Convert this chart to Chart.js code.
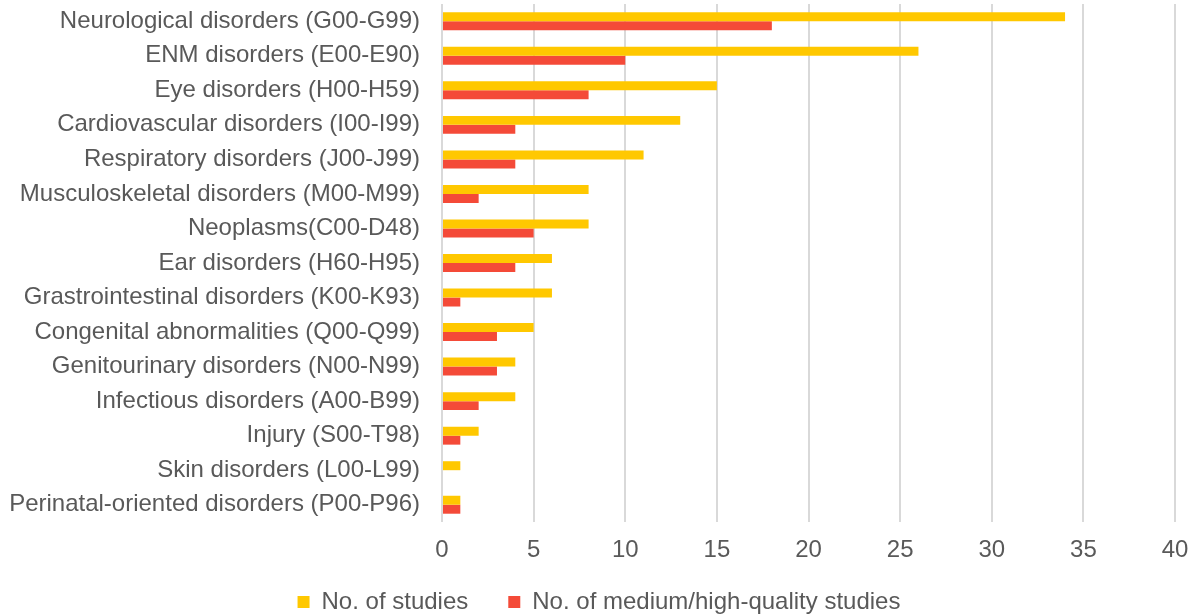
<!DOCTYPE html>
<html>
<head>
<meta charset="utf-8">
<script src="https://cdn.jsdelivr.net/npm/chart.js"></script>
<style>
    html, body { margin: 0; padding: 0; background: #fff; }
    #wrap { width: 1188px; height: 614px; }
</style>
</head>
<body>
<div id="wrap"><canvas id="studyChart"></canvas></div>

<script>
    const categories = [
        "Neurological disorders (G00-G99)",
        "ENM disorders (E00-E90)",
        "Eye disorders (H00-H59)",
        "Cardiovascular disorders (I00-I99)",
        "Respiratory disorders (J00-J99)",
        "Musculoskeletal disorders (M00-M99)",
        "Neoplasms(C00-D48)",
        "Ear disorders (H60-H95)",
        "Grastrointestinal disorders (K00-K93)",
        "Congenital abnormalities (Q00-Q99)",
        "Genitourinary disorders (N00-N99)",
        "Infectious disorders (A00-B99)",
        "Injury (S00-T98)",
        "Skin disorders (L00-L99)",
        "Perinatal-oriented disorders (P00-P96)"
    ];
    const studies = [34, 26, 15, 13, 11, 8, 8, 6, 6, 5, 4, 4, 2, 1, 1];
    const qualityStudies = [18, 10, 8, 4, 4, 2, 5, 4, 1, 3, 3, 2, 1, 0, 1];
    const xTicks = [0, 5, 10, 15, 20, 25, 30, 35, 40];

    const textColor = "#595959";
    const fontFamily = "'Liberation Sans', Arial, sans-serif";

    // legend box is too tall by default: pin its height, then nudge it up a bit
    const legendPlace = {
        id: "legendPlace",
        beforeLayout(chart) {
            const lg = chart.legend;
            if (lg && !lg._patched) {
                const fit = lg.fit;
                lg.fit = function () { fit.call(this); this.height = 54; };
                lg._patched = true;
            }
        },
        afterLayout(chart) {
            const lg = chart.legend;
            lg.top = chart.height - 64;
        }
    };

    let ctx = document.getElementById("studyChart").getContext("2d");

    new Chart(ctx, {
        type: "bar",
        data: {
            labels: categories,
            datasets: [{
                label: "No. of studies",
                data: studies,
                backgroundColor: "#FFC800"
            }, {
                label: "No. of medium/high-quality studies",
                data: qualityStudies,
                backgroundColor: "#F44A38"
            }]
        },
        options: {
            indexAxis: "y",
            responsive: true,
            maintainAspectRatio: false,
            animation: false,
            layout: { padding: { top: 4, right: 0, left: 10, bottom: 0 } },
            datasets: {
                bar: { categoryPercentage: 0.52, barPercentage: 1.0 }
            },
            scales: {
                x: {
                    min: 0,
                    max: 40,
                    afterBuildTicks: axis => { axis.ticks = xTicks.map(v => ({ value: v })); },
                    afterFit: scale => {
                        scale.height = 38;
                        scale.paddingLeft = 0;
                        scale.paddingRight = 13;
                    },
                    grid: { color: "#d9d9d9", lineWidth: 2, drawTicks: false },
                    border: { display: false },
                    ticks: {
                        color: textColor,
                        padding: 14,
                        font: { family: fontFamily, size: 24 }
                    }
                },
                y: {
                    afterFit: scale => {
                        scale.width = 432;
                        scale.paddingTop = 0;
                        scale.paddingBottom = 0;
                    },
                    grid: { display: false },
                    border: { display: false },
                    ticks: {
                        color: textColor,
                        padding: 14,
                        autoSkip: false,
                        font: { family: fontFamily, size: 24 }
                    }
                }
            },
            plugins: {
                legend: {
                    position: "bottom",
                    labels: {
                        color: textColor,
                        boxWidth: 12,
                        boxHeight: 12,
                        padding: 40,
                        font: { family: fontFamily, size: 24 }
                    }
                },
                tooltip: { enabled: false }
            }
        },
        plugins: [legendPlace]
    });
</script>
</body>
</html>
